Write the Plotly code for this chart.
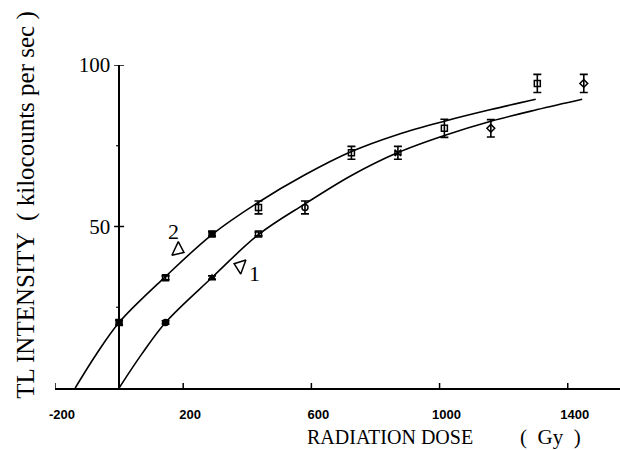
import plotly.graph_objects as go

# ---- data ----
dose_2 = [0, 145, 290, 435, 725, 1015, 1305]
tl_2 = [20.3, 34.1, 47.7, 55.9, 72.8, 80.4, 94.3]
err_2 = [0.7, 0.6, 0.7, 2.0, 2.0, 2.8, 2.8]

dose_1 = [145, 290, 435, 580, 870, 1160, 1450]
tl_1 = [20.3, 34.1, 47.7, 55.9, 72.8, 80.4, 94.3]
err_1 = [0.5, 0.6, 0.6, 2.0, 2.0, 2.7, 2.8]

# fitted curves
fit_dose_2 = [-137, -70, 0, 145, 290, 435, 580, 725, 870, 1015, 1160, 1300]
fit_tl_2 = [0, 10.6, 20.3, 34.5, 47.5, 57.5, 66.0, 73.2, 78.5, 82.6, 86.2, 89.4]
fit_dose_1 = [0, 70, 145, 290, 435, 580, 725, 870, 1015, 1160, 1305, 1445]
fit_tl_1 = [0, 10.4, 20.3, 34.2, 47.5, 57.0, 65.8, 72.9, 78.2, 82.6, 86.2, 89.4]

x_tick_vals = [-200, 200, 600, 1000, 1400]
x_tick_text = ["-200", "200", "600", "1000", "1400"]
x_minor = [400, 800, 1200]
y_tick_vals = [50, 100]
y_tick_text = ["50", "100"]
y_minor = [25, 75]

sym_2 = ["square", "square-open", "square", "square-open", "square-open", "square-open", "square-open"]
sym_1 = ["circle", "triangle-up", "square-open", "circle-open", "bowtie-open", "diamond-open", "diamond-open"]

SERIF = "Liberation Serif, Times New Roman, serif"
BLACK = "black"

fig = go.Figure()

for xs, ys in [(fit_dose_2, fit_tl_2), (fit_dose_1, fit_tl_1)]:
    fig.add_trace(go.Scatter(x=xs, y=ys, mode="lines", line=dict(color=BLACK, width=1.6, shape="spline", smoothing=1.0),
                             cliponaxis=False, showlegend=False, hoverinfo="skip"))

for xs, ys, es, sy in [(dose_2, tl_2, err_2, sym_2), (dose_1, tl_1, err_1, sym_1)]:
    fig.add_trace(go.Scatter(x=xs, y=ys, mode="markers",
                             marker=dict(symbol=sy, size=6, color=BLACK, line=dict(color=BLACK, width=1.5)),
                             error_y=dict(type="data", array=es, visible=True, color=BLACK, thickness=1.6, width=4),
                             cliponaxis=False, showlegend=False))

# curve pointers (open triangles)
fig.add_trace(go.Scatter(x=[184, 378], y=[42.8, 37.8], mode="markers",
                         marker=dict(symbol=["triangle-right-open", "triangle-left-open"], angle=[25, 20], size=13,
                                     color=BLACK, line=dict(color=BLACK, width=1.5)),
                         cliponaxis=False, showlegend=False, hoverinfo="skip"))

shapes = []
for v in x_tick_vals:
    shapes.append(dict(type="line", xref="x", yref="y", ysizemode="pixel", yanchor=0, x0=v, x1=v, y0=-5, y1=5,
                       line=dict(color=BLACK, width=1.5)))
for v in x_minor:
    shapes.append(dict(type="line", xref="x", yref="y", ysizemode="pixel", yanchor=0, x0=v, x1=v, y0=-3, y1=0,
                       line=dict(color=BLACK, width=1.2)))
for v in y_tick_vals:
    shapes.append(dict(type="line", xref="x", yref="y", xsizemode="pixel", xanchor=0, x0=-5, x1=5, y0=v, y1=v,
                       line=dict(color=BLACK, width=1.5)))
for v in y_minor:
    shapes.append(dict(type="line", xref="x", yref="y", xsizemode="pixel", xanchor=0, x0=-3, x1=0, y0=v, y1=v,
                       line=dict(color=BLACK, width=1.2)))

title_y = -(437 - 388.4) / 323.4
annotations = [
    dict(text="2", x=169, y=48.6, xref="x", yref="y", showarrow=False, font=dict(family=SERIF, size=22, color=BLACK)),
    dict(text="1", x=423, y=35.5, xref="x", yref="y", showarrow=False, font=dict(family=SERIF, size=22, color=BLACK)),
    dict(text="TL INTENSITY &nbsp;( kilocounts per sec )", textangle=-90, xref="paper", yref="paper",
         x=(26 - 55) / 565, y=0.567, xanchor="center", yanchor="middle", showarrow=False,
         font=dict(family=SERIF, size=25, color=BLACK)),
    dict(text="RADIATION DOSE", xref="paper", yref="paper", x=(305 - 55) / 565,
         y=title_y, xanchor="left", yanchor="middle", showarrow=False,
         font=dict(family=SERIF, size=20, color=BLACK)),
    dict(text="(&nbsp;&nbsp;Gy&nbsp;&nbsp;)", xref="paper", yref="paper", x=(550 - 55) / 565,
         y=title_y, xanchor="center", yanchor="middle", showarrow=False,
         font=dict(family=SERIF, size=21, color=BLACK)),
]

fig.update_layout(
    width=620, height=450, margin=dict(l=55, r=0, t=65, b=62),
    paper_bgcolor="white", plot_bgcolor="white",
    shapes=shapes, annotations=annotations,
    xaxis=dict(range=[-200, 1563], showline=True, linecolor=BLACK, linewidth=1.5, showgrid=False, zeroline=False,
               tickvals=x_tick_vals, ticktext=x_tick_text, ticks="",
               tickfont=dict(family="Liberation Sans, Arial, sans-serif", size=13, color=BLACK, weight="bold"),
               ticklabelstandoff=14, ticklabelshift=7),
    yaxis=dict(range=[0, 100], anchor="free", position=200 / 1763, showline=True, linecolor=BLACK, linewidth=1.5,
               showgrid=False, zeroline=False, tickvals=y_tick_vals, ticktext=y_tick_text, ticks="",
               tickfont=dict(family=SERIF, size=21, color=BLACK), ticklabelstandoff=4),
)

fig.write_html("out.html", config={"displayModeBar": False},
               post_script="document.body.style.margin='0';")
